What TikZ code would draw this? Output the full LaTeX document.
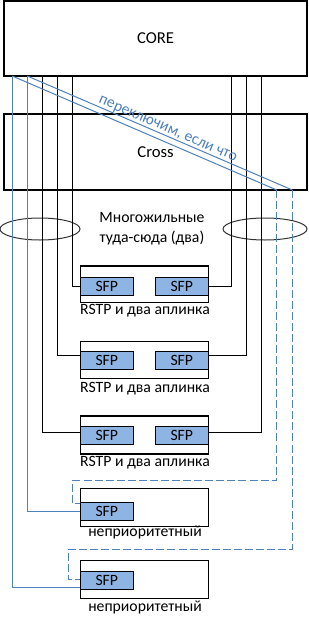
\documentclass[tikz,border=0pt]{standalone}
\usepackage{fontspec}
\setmainfont{Carlito}
\usetikzlibrary{shapes.geometric}
\definecolor{linkblue}{RGB}{79,129,189}
\definecolor{sfpblue}{RGB}{141,180,226}
\tikzset{box/.style={draw,line width=.8pt,inner sep=0pt,font=\fontsize{12.5}{14}\selectfont},sfp/.style={draw,fill=sfpblue,line width=.8pt,minimum width=39.75pt,minimum height=13.3pt,inner sep=0pt,font=\fontsize{11.8}{13}\selectfont},caption/.style={inner sep=0pt,font=\fontsize{11.8}{13}\selectfont},trunk/.style={line width=.75pt},uplink/.style={line width=.75pt,linkblue},backup/.style={line width=.75pt,linkblue,dash pattern=on 6pt off 2.3pt},bundle/.style={draw=black!80,line width=.75pt,ellipse,minimum height=16.5pt,inner sep=0pt}}

\begin{document}
\begin{tikzpicture}[x=.75pt,y=-.75pt]
\path[use as bounding box] (0,0) rectangle (308,618);
\node[box,minimum width=227.25pt,minimum height=56.25pt] (core) at (155.5,38.5) {CORE};
\node[box,minimum width=227.25pt,minimum height=57pt] (cross) at (155.5,152) {Cross};
\node[bundle,minimum width=60pt] (bundleL) at (40,229) {};
\node[bundle,minimum width=63pt] (bundleR) at (265,229) {};
\node[caption,align=center,font=\fontsize{11.8}{15}\selectfont] (multi) at (152,229) {Многожильные\\туда-сюда (два)};
% access switches
\node[box,minimum width=96pt,minimum height=27.5pt] (sw1) at (144.3,284.3) {};
\node[sfp] (sfp1a) at (106.8,286.2) {SFP};
\node[sfp] (sfp1b) at (181.8,286.2) {SFP};
\node[caption] (lab1) at (145,310.7) {RSTP и два аплинка};
\node[box,minimum width=96pt,minimum height=27.5pt] (sw2) at (144.3,360) {};
\node[sfp] (sfp2a) at (106.8,360.8) {SFP};
\node[sfp] (sfp2b) at (181.8,360.8) {SFP};
\node[caption] (lab2) at (145,388.3) {RSTP и два аплинка};
\node[box,minimum width=96pt,minimum height=28.5pt] (sw3) at (144.3,435) {};
\node[sfp] (sfp3a) at (106.8,435.8) {SFP};
\node[sfp] (sfp3b) at (181.8,435.8) {SFP};
\node[caption] (lab3) at (145,462.3) {RSTP и два аплинка};
\node[box,minimum width=96pt,minimum height=28.3pt] (sw4) at (144.3,507.2) {};
\node[sfp] (sfp4a) at (106.8,511.2) {SFP};
\node[caption] (lab4) at (145,532.3) {неприоритетный};
\node[box,minimum width=96pt,minimum height=28.3pt] (sw5) at (144.3,579.5) {};
\node[sfp] (sfp5a) at (106.8,580.8) {SFP};
\node[caption] (lab5) at (145,607.7) {неприоритетный};
% ports under the core
\coordinate (b1) at (12.3,76);
\coordinate (b2) at (27.3,76);
\coordinate (k1) at (42.7,76);
\coordinate (k2) at (57.7,76);
\coordinate (k3) at (72.3,76);
\coordinate (k4) at (231.7,76);
\coordinate (k5) at (246.7,76);
\coordinate (k6) at (261.3,76);
\coordinate (d1) at (276.7,190);
\coordinate (d2) at (292.3,190);
% copper pairs
\draw[trunk] (k3) |- (sfp1a.west);
\draw[trunk] (k4) |- (sfp1b.east);
\draw[trunk] (k2) |- ([yshift=3.8pt]sfp2a.west);
\draw[trunk] (k5) |- ([yshift=3.8pt]sfp2b.east);
\draw[trunk] (k1) |- ([yshift=2.6pt]sfp3a.west);
\draw[trunk] (k6) |- ([yshift=2.6pt]sfp3b.east);
% blue uplinks
\draw[uplink] (b2) |- (sfp4a.west);
\draw[uplink] (b1) |- ([yshift=-4.9pt]sfp5a.west);
\draw[uplink] (b1) -- (d1);
\draw[uplink] (b2) -- node[pos=.52,sloped,above,inner sep=.3pt,text=linkblue,font=\fontsize{11.8}{13}\selectfont] (swap) {переключим, если что} (d2);
\draw[backup] (d1) |- (72.3,480.7) |- ([yshift=5.9pt]sfp4a.west);
\draw[backup] (d2) |- (68.3,549) |- ([yshift=1.1pt]sfp5a.west);
\end{tikzpicture}
\end{document}
